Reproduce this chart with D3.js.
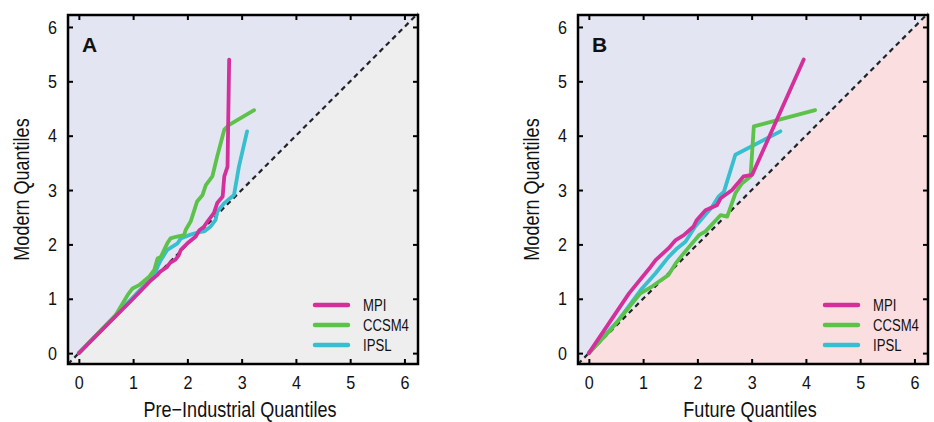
<!DOCTYPE html>
<html>
<head>
<meta charset="utf-8">
<script src="https://cdn.jsdelivr.net/npm/d3@7"></script>
<style>
  body { margin: 0; background: #fff; }
  text { font-family: "Liberation Sans", Arial, sans-serif; fill: #111; }
</style>
</head>
<body>
<script>
// Quantile pairs [x quantile, modern quantile]
var mpiA = [[0,0],[0.5,0.5],[1,1.0],[1.33,1.34],[1.45,1.44],[1.5,1.5],[1.62,1.58],[1.68,1.66],[1.78,1.72],[1.84,1.8],[1.88,1.9],[2.0,2.02],[2.15,2.14],[2.22,2.26],[2.3,2.32],[2.37,2.42],[2.49,2.58],[2.55,2.76],[2.65,2.88],[2.68,3.25],[2.74,3.43],[2.77,5.4]];
var ccsmA = [[0,0],[0.68,0.7],[0.9,1.07],[0.99,1.19],[1.11,1.25],[1.3,1.41],[1.39,1.53],[1.45,1.74],[1.51,1.77],[1.63,2.02],[1.69,2.11],[1.79,2.14],[1.94,2.17],[1.97,2.27],[2.06,2.42],[2.18,2.79],[2.28,2.91],[2.34,3.09],[2.46,3.25],[2.55,3.62],[2.68,4.11],[2.77,4.2],[3.23,4.47]];
var ipslA = [[0,0],[0.7,0.72],[1.2,1.24],[1.4,1.45],[1.45,1.59],[1.51,1.71],[1.63,1.9],[1.82,2.02],[1.88,2.11],[2.03,2.17],[2.19,2.22],[2.31,2.24],[2.43,2.33],[2.52,2.45],[2.55,2.6],[2.68,2.76],[2.86,2.91],[2.95,3.43],[3.1,4.08]];

var mpiB = [[0,0],[0.74,1.1],[1.14,1.59],[1.23,1.71],[1.47,1.93],[1.6,2.08],[1.75,2.17],[1.93,2.33],[1.99,2.45],[2.15,2.63],[2.36,2.72],[2.43,2.85],[2.64,3.0],[2.85,3.25],[3.01,3.28],[3.96,5.4]];
var ccsmB = [[0,0],[0.43,0.46],[0.95,1.1],[1.17,1.23],[1.47,1.44],[1.6,1.65],[1.75,1.84],[2.03,2.17],[2.15,2.24],[2.43,2.54],[2.55,2.51],[2.7,2.94],[2.82,3.12],[2.98,3.25],[3.04,4.17],[4.17,4.47]];
var ipslB = [[0,0],[0.55,0.61],[0.98,1.19],[1.23,1.47],[1.47,1.77],[1.63,1.93],[1.78,2.05],[1.96,2.33],[2.27,2.69],[2.39,2.88],[2.49,2.97],[2.7,3.65],[3.53,4.08]];

var models = ["MPI", "CCSM4", "IPSL"];
var modelColors = ["#d4309b", "#5cc24a", "#38bfcf"];
var ticks = [0, 1, 2, 3, 4, 5, 6];

var panels = [
  { label: "A", xTitle: "Pre\u2212Industrial Quantiles", series: [mpiA, ccsmA, ipslA], lower: "#eeeeee", left: 68 },
  { label: "B", xTitle: "Future Quantiles", series: [mpiB, ccsmB, ipslB], lower: "#fbdfe0", left: 578 }
];

var width = 934, height = 422;
var plotW = 350, plotTop = 15, plotBottom = 364;
var narrow = "scale(0.82,1)";

var svg = d3.select("body").append("svg")
    .attr("width", width)
    .attr("height", height);

panels.forEach(function(p) {
  var x = d3.scaleLinear().domain([-0.2, 6.25]).range([p.left, p.left + plotW]);
  var y = d3.scaleLinear().domain([-0.2, 6.22]).range([plotBottom, plotTop]);
  var g = svg.append("g");

  // background triangles split by the 1:1 line
  g.append("path")
      .attr("d", "M" + x(-0.2) + "," + y(-0.2) + "L" + x(-0.2) + "," + y(6.22) + "L" + x(6.25) + "," + y(6.22) + "Z")
      .attr("fill", "#e3e5f2");
  g.append("path")
      .attr("d", "M" + x(-0.2) + "," + y(-0.2) + "L" + x(6.25) + "," + y(-0.2) + "L" + x(6.25) + "," + y(6.22) + "Z")
      .attr("fill", p.lower);

  // 1:1 line
  g.append("line")
      .attr("x1", x(-0.2)).attr("y1", y(-0.2))
      .attr("x2", x(6.25)).attr("y2", y(6.25))
      .attr("stroke", "#222")
      .attr("stroke-width", 2.2)
      .attr("stroke-dasharray", "5,4");

  var line = d3.line()
      .x(function(d) { return x(d[0]); })
      .y(function(d) { return y(d[1]); });

  // draw IPSL first, MPI on top
  [2, 1, 0].forEach(function(i) {
    g.append("path")
        .datum(p.series[i])
        .attr("d", line)
        .attr("fill", "none")
        .attr("stroke", modelColors[i])
        .attr("stroke-width", 3.8)
        .attr("stroke-linejoin", "round")
        .attr("stroke-linecap", "round");
  });

  // axes with inward ticks on all four sides
  g.append("g")
      .attr("transform", "translate(0," + plotBottom + ")")
      .call(d3.axisBottom(x).tickValues(ticks).tickSizeInner(-5).tickPadding(12).tickFormat(d3.format("d")))
      .call(styleAxis);
  g.append("g")
      .attr("transform", "translate(0," + plotTop + ")")
      .call(d3.axisTop(x).tickValues(ticks).tickSizeInner(-5).tickFormat(""))
      .call(styleAxis);
  g.append("g")
      .attr("transform", "translate(" + p.left + ",0)")
      .call(d3.axisLeft(y).tickValues(ticks).tickSizeInner(-5).tickPadding(11).tickFormat(d3.format("d")))
      .call(styleAxis);
  g.append("g")
      .attr("transform", "translate(" + (p.left + plotW) + ",0)")
      .call(d3.axisRight(y).tickValues(ticks).tickSizeInner(-5).tickFormat(""))
      .call(styleAxis);

  // frame
  g.append("rect")
      .attr("x", p.left).attr("y", plotTop)
      .attr("width", plotW).attr("height", plotBottom - plotTop)
      .attr("fill", "none")
      .attr("stroke", "#000")
      .attr("stroke-width", 2.5);

  // panel letter
  g.append("text")
      .attr("x", p.left + 14).attr("y", 52)
      .attr("font-size", 21)
      .attr("font-weight", "bold")
      .attr("fill", "#000")
      .text(p.label);

  // axis titles
  g.append("g")
      .attr("transform", "translate(" + (p.left + plotW / 2 - 3) + ",417)")
    .append("text")
      .attr("transform", narrow)
      .attr("text-anchor", "middle")
      .attr("font-size", 22)
      .text(p.xTitle);
  g.append("g")
      .attr("transform", "translate(" + (p.left - 39) + "," + ((plotTop + plotBottom) / 2) + ") rotate(-90)")
    .append("text")
      .attr("transform", narrow)
      .attr("text-anchor", "middle")
      .attr("font-size", 22)
      .text("Modern Quantiles");

  // legend
  var leg = g.append("g")
      .attr("transform", "translate(" + (p.left + plotW - 103) + ",305)");
  models.forEach(function(m, i) {
    leg.append("line")
        .attr("x1", 0).attr("x2", 33)
        .attr("y1", i * 20).attr("y2", i * 20)
        .attr("stroke", modelColors[i])
        .attr("stroke-width", 4.5)
        .attr("stroke-linecap", "round");
    leg.append("g")
        .attr("transform", "translate(48," + (i * 20 + 5.5) + ")")
      .append("text")
        .attr("transform", narrow)
        .attr("font-size", 16)
        .text(m);
  });
});

function styleAxis(sel) {
  sel.select(".domain").remove();
  sel.selectAll(".tick line").attr("stroke", "#000").attr("stroke-width", 2);
  sel.selectAll(".tick text")
      .attr("font-size", 19)
      .attr("fill", "#111")
      .each(function() {
        // compress each label horizontally about its own anchor
        var t = d3.select(this);
        var tx = +t.attr("x") || 0;
        t.attr("transform", "translate(" + tx + ",0) scale(0.85,1) translate(" + (-tx) + ",0)");
      });
}
</script>
</body>
</html>
